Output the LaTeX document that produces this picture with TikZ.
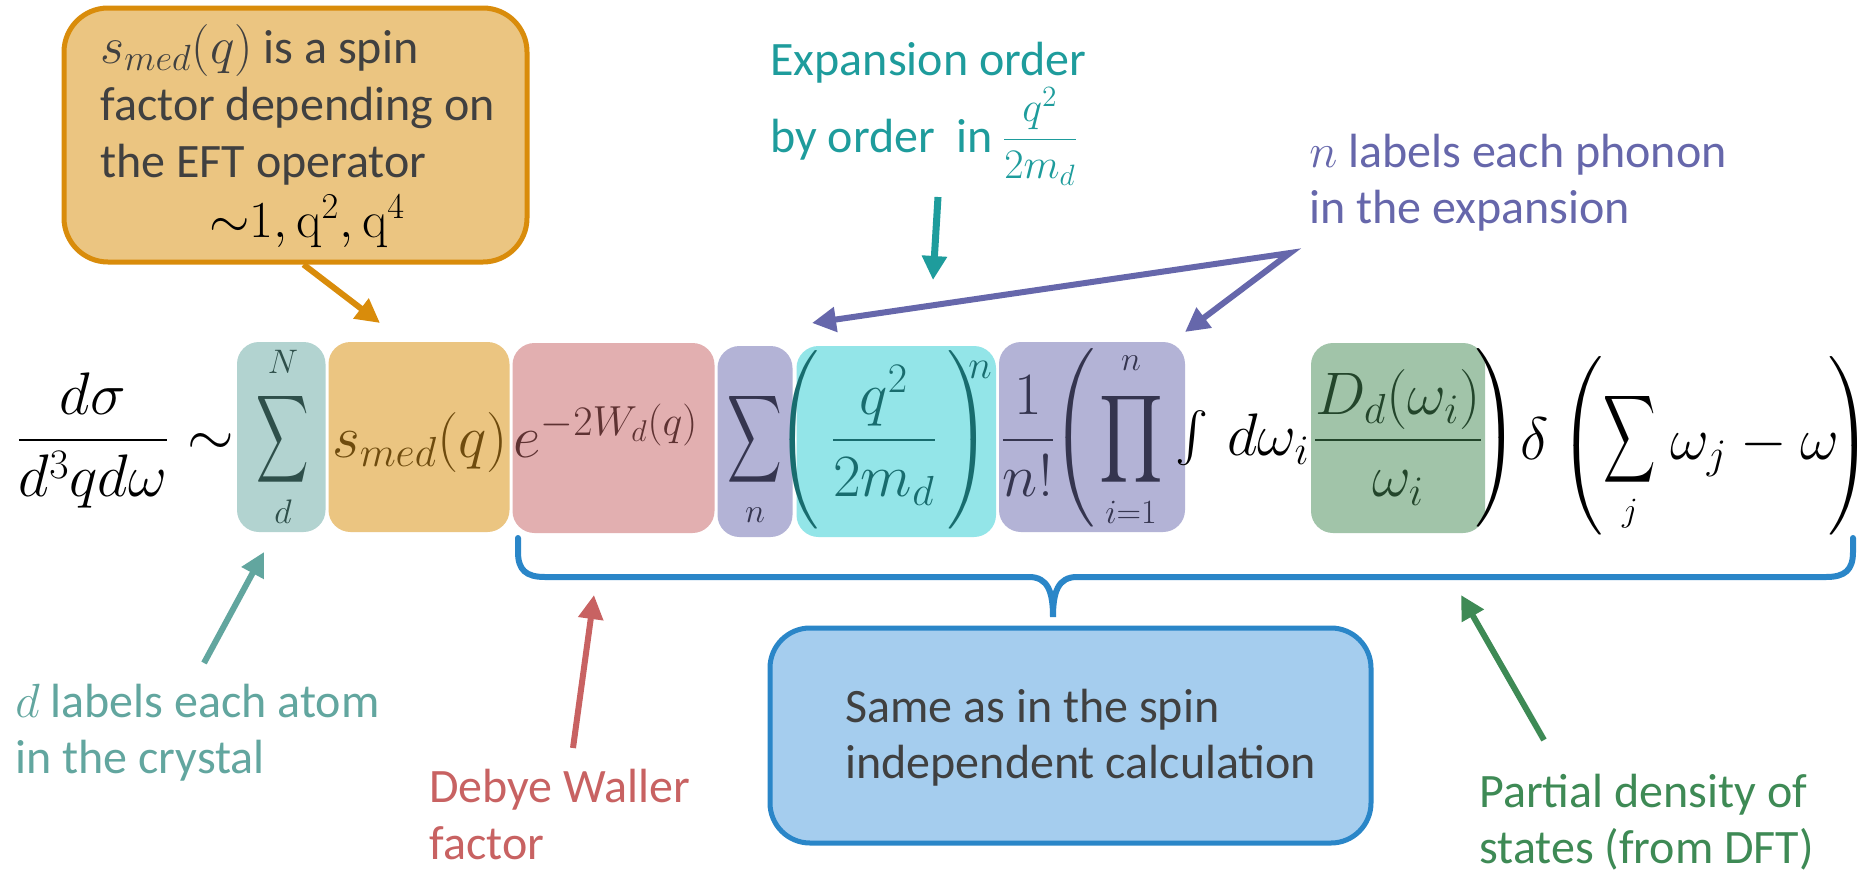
\RequirePackage{fix-cm}
\documentclass[tikz,border=0pt]{standalone}
\usepackage{amsmath}
\usepackage{graphicx}
\usepackage[no-math]{fontspec}
\setmainfont{Carlito}
\usetikzlibrary{arrows.meta}
\definecolor{calloutfill}{HTML}{EBC581}
\definecolor{calloutedge}{HTML}{D98C0B}
\definecolor{txtgray}{HTML}{404040}
\definecolor{tealtxt}{HTML}{1E9C9C}
\definecolor{purptxt}{HTML}{6667AB}
\definecolor{atomtxt}{HTML}{62A69F}
\definecolor{redtxt}{HTML}{C86262}
\definecolor{greentxt}{HTML}{3E8A55}
\definecolor{bluebrace}{HTML}{2A86C8}
\definecolor{bluefill}{HTML}{A5CDEE}
\definecolor{boxteal}{HTML}{B2D3D0}
\definecolor{boxorange}{HTML}{EBC581}
\definecolor{boxpink}{HTML}{E2AFB0}
\definecolor{boxpurple}{HTML}{B3B3D6}
\definecolor{boxcyan}{HTML}{93E5E8}
\definecolor{boxgreen}{HTML}{A1C4A9}
\definecolor{tealdark}{HTML}{2E4F4A}
\definecolor{orangedark}{HTML}{6E4B0E}
\definecolor{pinkdark}{HTML}{5E3232}
\definecolor{purpledark}{HTML}{35354F}
\definecolor{cyandark}{HTML}{186C6E}
\definecolor{greendark}{HTML}{23452B}
\newcommand\tallparen[2]{\left#1\vcenter to #2{}\right.}
\tikzset{
  lbl/.style={anchor=base west, inner sep=0pt, font=\fontsize{24}{28}\selectfont},
  eq/.style={inner sep=0pt, font=\fontsize{30}{36}\selectfont},
  lim/.style={inner sep=0pt, font=\fontsize{17}{20}\selectfont},
  ebox/.style={rounded corners=11pt},
  arr/.style={line width=3pt, -{Triangle[length=12pt,width=12pt]}},
}
\begin{document}
\begin{tikzpicture}[x=0.5pt,y=-0.5pt]
\fill[white] (0,0) rectangle (1870,873);
\useasboundingbox (0,0) rectangle (1870,873);

% ---- equation boxes
\fill[boxteal, ebox] (237,342) rectangle (325.5,532);
\fill[boxorange, ebox] (328.5,342) rectangle (509.5,532);
\fill[boxpink, ebox] (512.5,343) rectangle (714.5,533);
\fill[boxpurple, ebox] (717.5,346) rectangle (792.5,537);
\fill[boxcyan, ebox] (796.5,346) rectangle (996,537);
\fill[boxpurple, ebox] (999,342) rectangle (1185,532);
\fill[boxgreen, ebox] (1311,343) rectangle (1485,533);

% ---- equation
\node[eq, anchor=base] (frac) at (93,455) {$\dfrac{d\sigma}{d^3qd\omega}$};
\node[eq, anchor=base] (sim) at (211,455) {$\sim$};
\node[eq, text=tealdark] (sumd) at (283,439) {\scalebox{0.73}[1.23]{$\displaystyle\sum$}};
\node[lim, text=tealdark] (sumdN) at (283,362) {$N$};
\node[lim, text=tealdark] (sumdd) at (283,512) {$d$};
\node[eq, anchor=base, text=orangedark] (smed) at (420,457) {$s_{med}(q)$};
\node[eq, anchor=base west, text=pinkdark] (dw) at (513,457) {$e^{-2W_d(q)}$};
\node[eq, text=purpledark] (sumn) at (755,439) {\scalebox{0.76}[1.23]{$\displaystyle\sum$}};
\node[lim, text=purpledark] (sumnn) at (755,515) {$n$};
\node[eq, anchor=base, text=cyandark] (qfrac) at (884,455) {$\tallparen({92pt}\dfrac{q^2}{2m_d}\tallparen){92pt}$};
\node[inner sep=0pt, font=\fontsize{20}{24}\selectfont, text=cyandark] (qn) at (980,370) {$n$};
\node[eq, anchor=base, text=purpledark] (nfact) at (1028,455) {$\dfrac{1}{n!}$};
\node[eq, text=purpledark] (lpar) at (1074,438) {$\tallparen({80pt}$};
\node[eq, text=purpledark] (prod) at (1131,439) {\scalebox{1.0}[1.23]{$\displaystyle\prod$}};
\node[lim, text=purpledark] (prodn) at (1131,363) {$n$};
\node[lim, text=purpledark] (prodi) at (1131,512) {$i{=}1$};
\node[inner sep=0pt, font=\fontsize{25}{30}\selectfont] (intg) at (1192,438) {$\int$};
\node[eq, anchor=base west] (domega) at (1227,455) {$d\omega_i$};
\node[eq, anchor=base, text=greendark] (dos) at (1398,455) {$\dfrac{D_d(\omega_i)}{\omega_i}$};
\node[eq] (rpar) at (1498,438) {$\tallparen){80pt}$};
\node[eq, anchor=base] (delta) at (1535,459) {$\delta$};
\node[eq] (lpar2) at (1582,446) {$\tallparen({80pt}$};
\node[eq] (sumj) at (1630,439) {\scalebox{0.73}[1.23]{$\displaystyle\sum$}};
\node[lim] (sumjj) at (1630,514) {$j$};
\node[eq, anchor=base west] (omj) at (1670,459) {$\omega_j-\omega$};
\node[eq] (rpar2) at (1851,446) {$\tallparen){80pt}$};

% ---- orange callout
\node[draw=calloutedge, fill=calloutfill, line width=2.5pt, rounded corners=22pt,
      minimum width=231.5pt, minimum height=127pt, inner sep=0pt] (obox) at (295.5,135) {};
\node[lbl, text=txtgray] (o1) at (100,63) {{\fontsize{26}{30}\selectfont$s_{med}(q)$} is a spin};
\node[lbl, text=txtgray] (o2) at (100,120) {factor depending on};
\node[lbl, text=txtgray] (o3) at (100,177) {the EFT operator};
\node[lbl, text=black] (o4) at (209,237) {\fontsize{26}{30}\selectfont$\mathord{\sim}1,\mathrm{q}^2,\mathrm{q}^4$};
\coordinate (otip) at (380,323);
\draw[arr, calloutedge] ([xshift=4pt]obox.south) -- (otip);

% ---- expansion label
\node[lbl, text=tealtxt] (t1) at (770,75) {Expansion order};
\node[lbl, text=tealtxt] (t2) at (770,152) {by order~~in};
\node[inner sep=0pt, anchor=base, text=tealtxt, font=\fontsize{21}{25}\selectfont] (tfrac) at (1040,150) {$\dfrac{q^2}{2m_d}$};
\coordinate (tstart) at (938,197);
\coordinate (ttip) at (933,280);
\draw[arr, tealtxt, line width=3.5pt] (tstart) -- (ttip);

% ---- phonon label
\node[lbl, text=purptxt] (p1) at (1309,167) {$n$ labels each phonon};
\node[lbl, text=purptxt] (p2) at (1309,223) {in the expansion};
\coordinate (pv) at (1290,253);
\coordinate (ptipa) at (812,323);
\coordinate (ptipb) at (1185,332);
\draw[purptxt, line width=3pt, {Triangle[length=12pt,width=12pt]}-{Triangle[length=12pt,width=12pt]}] (ptipa) -- (pv) -- (ptipb);

% ---- brace
\draw[bluebrace, line width=3pt, line cap=round]
  (518,538) -- (518,552) .. controls (518,570) and (526,577) .. (545,577)
  -- (1029,577) .. controls (1048,577) and (1053,592) .. (1053,617)
  .. controls (1053,592) and (1058,577) .. (1077,577)
  -- (1826,577) .. controls (1845,577) and (1853,570) .. (1853,552) -- (1853,538);

% ---- blue box
\node[draw=bluebrace, fill=bluefill, line width=2.5pt, rounded corners=20pt,
      minimum width=300.5pt, minimum height=107.5pt, inner sep=0pt] (bbox) at (1070.5,735.5) {};
\node[lbl, text=txtgray] (b1) at (845,722) {Same as in the spin};
\node[lbl, text=txtgray] (b2) at (845,778) {independent calculation};

% ---- bottom labels
\node[lbl, text=atomtxt] (a1) at (15,717) {$d$ labels each atom};
\node[lbl, text=atomtxt] (a2) at (15,773) {in the crystal};
\coordinate (astart) at (204,663);
\coordinate (atip) at (264,552);
\draw[arr, atomtxt] (astart) -- (atip);

\node[lbl, text=redtxt] (r1) at (429,802) {Debye Waller};
\node[lbl, text=redtxt] (r2) at (429,859) {factor};
\coordinate (rstart) at (573,748);
\coordinate (rtip) at (594,595);
\draw[arr, redtxt] (rstart) -- (rtip);

\node[lbl, text=greentxt] (g1) at (1479,807) {Partial density of};
\node[lbl, text=greentxt] (g2) at (1479,863) {states (from DFT)};
\coordinate (gstart) at (1544,740);
\coordinate (gtip) at (1461,595);
\draw[arr, greentxt] (gstart) -- (gtip);
\end{tikzpicture}
\end{document}
